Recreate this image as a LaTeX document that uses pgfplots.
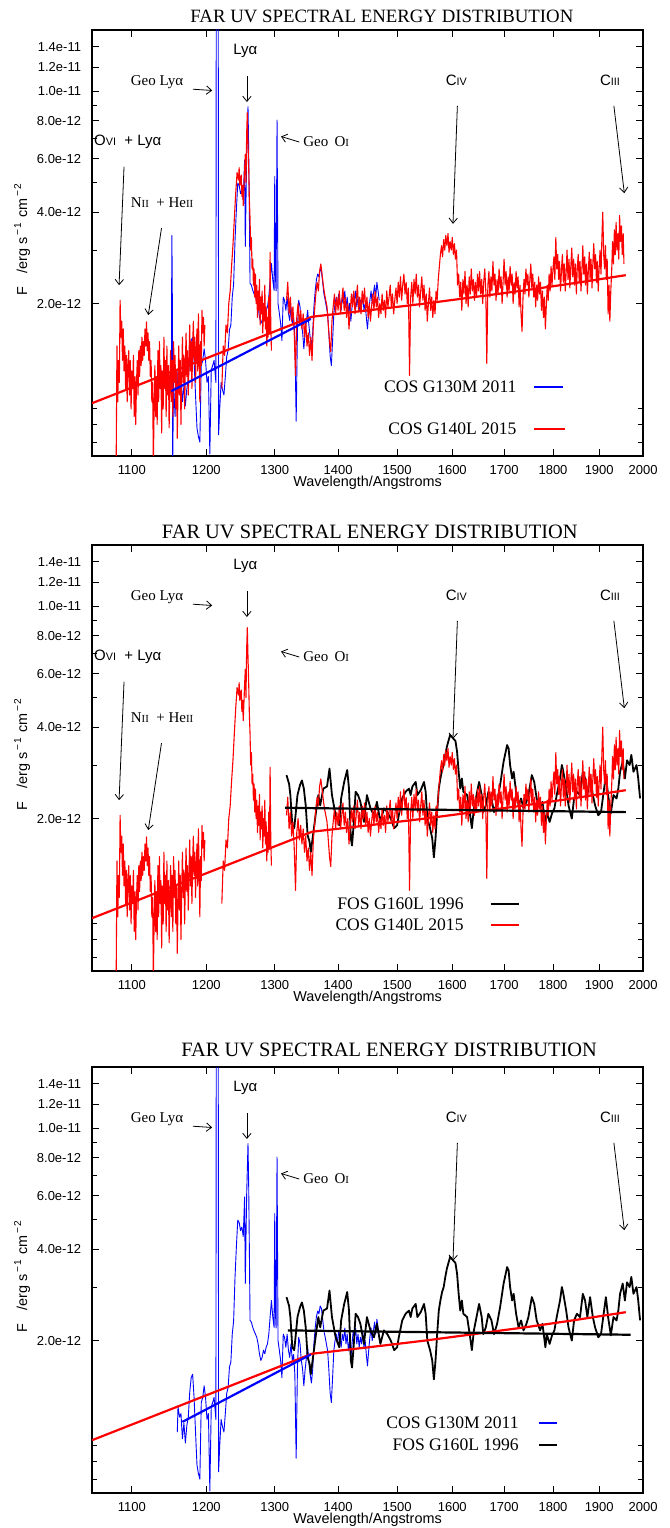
\documentclass[border=0pt]{standalone}
\usepackage{fontspec}
\setmainfont{Liberation Serif}
\setsansfont{Liberation Sans}
\usepackage{pgfplots}
\usepackage{pgfplotstable}
\pgfplotsset{compat=1.18}
\usetikzlibrary{arrows.meta}

% COS G140L 2015 (flux in 1e-12 erg/s/cm2/A)
\pgfplotstableread[row sep=\\]{
lam F\\
1080 0.6\\ 1081 1.45\\ 1082 0.95\\ 1083 1.3\\ 1084 1.1\\ 1085 2.05\\ 1086 1.55\\ 1087 1.75\\ 1088 1.3\\ 1089 1.65\\
1090 1.2\\ 1091 1.45\\ 1092 1.05\\ 1093 1.35\\ 1094 0.95\\ 1095 1.25\\ 1096 1.4\\ 1097 1.0\\ 1098 1.3\\ 1099 0.9\\
1100 1.2\\ 1101 1.05\\ 1102 1.35\\ 1103 0.85\\ 1104 1.15\\ 1105 0.8\\ 1106 1.1\\ 1107 1.3\\ 1108 1.0\\ 1109 1.4\\
1110 1.15\\ 1111 1.45\\ 1112 1.25\\ 1113 1.55\\ 1114 1.3\\ 1115 1.5\\ 1116 1.35\\ 1117 1.65\\ 1118 1.45\\ 1119 1.74\\
1120 1.4\\ 1121 1.6\\ 1122 1.3\\ 1123 1.5\\ 1124 1.15\\ 1125 1.3\\ 1126 0.95\\ 1127 1.1\\ 1128 0.6\\ 1129 0.9\\
1130 1.25\\ 1131 0.85\\ 1132 1.15\\ 1133 0.8\\ 1134 1.4\\ 1135 0.95\\ 1136 1.5\\ 1137 1.05\\ 1138 1.25\\ 1139 0.75\\
1140 1.2\\ 1141 0.9\\ 1142 1.55\\ 1143 1.05\\ 1144 1.3\\ 1145 0.85\\ 1146 1.45\\ 1147 1.0\\ 1148 1.25\\ 1149 0.78\\
1150 1.1\\ 1151 1.4\\ 1152 0.95\\ 1153 1.3\\ 1154 0.85\\ 1155 1.5\\ 1156 1.1\\ 1157 1.35\\ 1158 0.9\\ 1159 1.2\\
1160 0.72\\ 1161 1.05\\ 1162 1.45\\ 1163 1.0\\ 1164 1.3\\ 1165 0.8\\ 1166 1.15\\ 1167 1.55\\ 1168 1.1\\ 1169 1.35\\
1170 0.9\\ 1171 1.25\\ 1172 1.6\\ 1173 1.15\\ 1174 1.4\\ 1175 1.0\\ 1176 1.3\\ 1177 1.7\\ 1178 1.2\\ 1179 1.5\\
1180 1.05\\ 1181 1.45\\ 1182 1.75\\ 1183 1.3\\ 1184 1.55\\ 1185 1.1\\ 1186 1.4\\ 1187 1.65\\ 1188 1.2\\ 1189 1.85\\
1190 1.35\\ 1191 0.95\\ 1192 1.5\\ 1193 1.25\\ 1194 1.9\\ 1195 1.6\\ 1196 1.8\\ 1197 1.45\\ 1198 1.7\\
1199 nan\\
1222 1.05\\ 1224 1.45\\ 1226 1.35\\ 1228 1.7\\ 1230 1.6\\ 1232 2.0\\ 1234 2.2\\ 1236 2.65\\ 1238 3.1\\ 1240 3.8\\
1242 4.6\\ 1244 5.4\\ 1246 5.1\\ 1247 5.6\\ 1248 4.9\\ 1250 5.3\\ 1251 4.5\\ 1252 4.9\\ 1253 4.2\\ 1254 4.8\\
1255 5.5\\ 1256 6.2\\ 1257 5.0\\ 1258 7.2\\ 1259 8.5\\ 1260 6.8\\ 1261 5.6\\ 1262 4.4\\ 1263 3.8\\ 1264 3.0\\
1265 3.3\\ 1266 2.6\\ 1267 2.8\\ 1268 2.3\\ 1269 2.6\\ 1270 2.1\\ 1271 2.5\\ 1272 2.0\\ 1273 2.3\\ 1274 1.8\\
1275 2.2\\ 1276 1.9\\ 1277 2.4\\ 1278 1.7\\ 1279 2.1\\ 1280 1.85\\ 1281 2.2\\ 1282 1.6\\ 1283 2.0\\ 1284 1.75\\
1285 2.3\\ 1286 1.65\\ 1287 1.95\\ 1288 1.45\\ 1289 1.8\\ 1290 1.55\\ 1291 2.1\\ 1292 1.6\\ 1293 2.95\\ 1294 1.7\\
1295 1.4\\
1296 nan\\
1318 2.05\\ 1320 2.35\\ 1322 1.85\\ 1324 2.1\\ 1326 1.75\\ 1328 1.95\\ 1330 1.6\\ 1332 1.16\\ 1334 1.8\\ 1336 2.0\\
1338 1.7\\ 1340 1.9\\ 1342 1.65\\ 1344 1.85\\ 1346 1.55\\ 1348 1.75\\ 1350 1.45\\ 1352 1.6\\ 1354 1.35\\ 1356 1.55\\
1358 1.3\\ 1360 1.7\\ 1362 1.9\\ 1364 2.15\\ 1366 2.35\\ 1368 2.2\\ 1370 2.55\\ 1372 2.7\\ 1374 2.5\\ 1376 2.3\\
1378 2.15\\ 1380 2.05\\ 1382 1.95\\ 1384 1.7\\ 1386 1.5\\ 1388 1.39\\ 1390 1.75\\ 1392 1.95\\ 1394 2.15\\ 1396 1.85\\
1398 2.1\\ 1400 1.9\\ 1402 2.2\\ 1404 1.85\\ 1406 2.05\\ 1408 2.25\\ 1410 1.9\\ 1412 2.1\\ 1414 1.8\\ 1416 2.0\\
1418 1.65\\ 1420 1.9\\ 1422 2.15\\ 1424 1.95\\ 1426 2.2\\ 1428 1.85\\ 1430 2.05\\ 1432 2.3\\ 1434 1.9\\ 1436 2.1\\
1438 1.85\\ 1440 2.2\\ 1442 2.0\\ 1444 2.25\\ 1446 1.9\\ 1448 2.1\\ 1450 1.8\\ 1452 2.0\\ 1454 1.75\\ 1456 1.95\\
1458 2.15\\ 1460 1.9\\ 1462 2.2\\ 1464 1.95\\ 1466 2.1\\ 1468 1.8\\ 1470 2.0\\ 1472 1.85\\ 1474 2.15\\ 1476 1.9\\
1478 2.05\\ 1480 1.8\\ 1482 2.2\\ 1484 1.95\\ 1486 2.1\\ 1488 2.3\\ 1490 1.95\\ 1492 2.15\\ 1494 1.85\\ 1496 2.05\\
1498 2.25\\ 1500 2.0\\ 1502 2.35\\ 1504 2.1\\ 1506 2.45\\ 1508 2.05\\ 1510 2.3\\ 1512 2.5\\ 1514 2.15\\ 1516 2.35\\
1518 2.0\\ 1520 2.25\\ 1522 1.16\\ 1524 2.1\\ 1526 2.35\\ 1528 2.0\\ 1530 2.4\\ 1532 2.15\\ 1534 2.5\\ 1536 2.1\\
1538 2.3\\ 1540 1.95\\ 1542 2.2\\ 1544 2.45\\ 1546 2.05\\ 1548 2.3\\ 1550 1.9\\ 1552 2.15\\ 1554 1.75\\ 1556 2.0\\
1558 2.25\\ 1560 1.9\\ 1562 2.1\\ 1564 1.8\\ 1566 2.05\\ 1568 1.85\\ 1570 2.2\\ 1572 2.05\\ 1574 2.4\\ 1576 2.65\\
1578 2.9\\ 1580 3.1\\ 1582 2.85\\ 1584 3.25\\ 1586 3.0\\ 1588 3.35\\ 1590 3.1\\ 1592 3.4\\ 1594 2.95\\ 1596 3.2\\
1598 3.0\\ 1600 3.3\\ 1602 2.9\\ 1604 3.15\\ 1606 2.8\\ 1608 3.0\\ 1610 2.3\\ 1612 2.5\\ 1614 2.1\\ 1616 2.35\\
1618 1.9\\ 1620 2.4\\ 1622 2.15\\ 1624 2.55\\ 1626 2.0\\ 1628 2.3\\ 1630 1.95\\ 1632 2.45\\ 1634 2.15\\ 1636 2.6\\
1638 2.2\\ 1640 2.4\\ 1642 2.05\\ 1644 2.35\\ 1646 2.1\\ 1648 2.5\\ 1650 2.2\\ 1652 2.55\\ 1654 2.15\\ 1656 2.4\\
1658 2.0\\ 1660 2.35\\ 1662 2.6\\ 1664 2.2\\ 1666 1.27\\ 1668 2.3\\ 1670 2.55\\ 1672 2.1\\ 1674 2.45\\ 1676 2.2\\
1678 2.75\\ 1680 2.3\\ 1682 2.5\\ 1684 2.05\\ 1686 2.4\\ 1688 2.15\\ 1690 2.6\\ 1692 2.25\\ 1694 2.45\\ 1696 2.0\\
1698 2.35\\ 1700 2.8\\ 1702 2.3\\ 1704 2.55\\ 1706 2.1\\ 1708 2.45\\ 1710 2.2\\ 1712 2.65\\ 1714 2.3\\ 1716 2.5\\
1718 2.0\\ 1720 2.35\\ 1722 2.15\\ 1724 2.55\\ 1726 2.25\\ 1728 2.45\\ 1730 1.95\\ 1732 2.3\\ 1734 1.85\\ 1736 1.62\\
1738 2.1\\ 1740 2.4\\ 1742 2.15\\ 1744 2.6\\ 1746 2.3\\ 1748 2.5\\ 1750 2.1\\ 1752 2.4\\ 1754 2.7\\ 1756 2.25\\
1758 2.5\\ 1760 2.1\\ 1762 2.35\\ 1764 1.95\\ 1766 2.3\\ 1768 2.05\\ 1770 2.45\\ 1772 2.15\\ 1774 2.35\\ 1776 1.9\\
1778 2.2\\ 1780 1.8\\ 1782 2.1\\ 1784 1.65\\ 1786 1.95\\ 1788 2.3\\ 1790 2.05\\ 1792 2.5\\ 1794 2.2\\ 1796 2.65\\
1798 2.3\\ 1800 2.6\\ 1802 2.85\\ 1804 2.4\\ 1806 3.3\\ 1808 2.6\\ 1810 2.9\\ 1812 2.4\\ 1814 2.75\\ 1816 2.2\\
1818 2.6\\ 1820 2.9\\ 1822 2.35\\ 1824 2.7\\ 1826 2.2\\ 1828 2.55\\ 1830 3.0\\ 1832 2.4\\ 1834 2.8\\ 1836 2.25\\
1838 2.65\\ 1840 3.05\\ 1842 2.45\\ 1844 2.8\\ 1846 2.3\\ 1848 2.7\\ 1850 2.15\\ 1852 2.6\\ 1854 2.9\\ 1856 2.35\\
1858 2.75\\ 1860 2.2\\ 1862 2.6\\ 1864 3.1\\ 1866 2.5\\ 1868 2.85\\ 1870 2.3\\ 1872 2.7\\ 1874 2.15\\ 1876 2.55\\
1878 2.95\\ 1880 2.4\\ 1882 2.8\\ 1884 2.25\\ 1886 2.7\\ 1888 3.15\\ 1890 2.6\\ 1892 2.9\\ 1894 2.35\\ 1896 2.75\\
1898 2.2\\ 1900 2.65\\ 1902 3.0\\ 1904 2.5\\ 1906 3.3\\ 1908 4.0\\ 1910 2.9\\ 1912 2.6\\ 1914 3.1\\ 1916 2.4\\
1918 2.8\\ 1920 1.85\\ 1922 2.3\\ 1924 1.75\\ 1926 2.2\\ 1928 2.6\\ 1930 3.2\\ 1932 2.7\\ 1934 3.5\\ 1936 2.9\\
1938 3.7\\ 1940 3.0\\ 1942 3.4\\ 1944 2.8\\ 1946 3.9\\ 1948 3.2\\ 1950 3.6\\ 1952 2.9\\ 1954 3.4\\ 1956 2.7\\
}\redtab

% COS G130M 2011
\pgfplotstableread[row sep=\\]{
lam F\\
1160 1.00\\ 1161 1.21\\ 1163 1.12\\ 1165 1.15\\ 1167 0.95\\ 1169 1.07\\ 1171 0.92\\ 1173 1.05\\ 1175 1.12\\ 1177 1.35\\
1179 1.51\\ 1181 1.55\\ 1183 1.30\\ 1185 1.00\\ 1187 0.78\\ 1189 0.73\\ 1191 0.70\\ 1193 1.25\\ 1195 1.30\\ 1197 1.42\\
1199 1.30\\ 1201 1.10\\ 1203 1.15\\ 1205 0.64\\ 1207 1.21\\ 1209 1.25\\ 1211 1.30\\ 1213.6 1.10\\ 1214.2 40\\ 1216.8 40\\
1217.4 0.74\\ 1219 0.90\\ 1221 1.10\\ 1223 1.04\\ 1225 1.00\\ 1227 1.15\\ 1229 1.34\\ 1231 1.40\\ 1233 1.64\\ 1235 1.70\\
1237 2.10\\ 1239 2.32\\ 1241 3.23\\ 1243 4.06\\ 1245 4.98\\ 1247 4.90\\ 1249 4.60\\ 1251 4.73\\ 1253 4.40\\ 1255 5.94\\
1256 3.08\\ 1258 6.0\\ 1260 8.90\\ 1261 6.5\\ 1262 4.0\\ 1263 2.33\\ 1265 2.30\\ 1267 2.21\\ 1269 2.15\\ 1271 2.10\\
1273 2.05\\ 1275 1.95\\ 1277 1.81\\ 1279 1.72\\ 1281 1.76\\ 1283 1.86\\ 1285 1.81\\ 1287 1.90\\ 1289 1.95\\ 1291 2.10\\
1293 2.39\\ 1295 2.71\\ 1297 2.40\\ 1299 2.21\\ 1300 5.24\\ 1301 2.5\\ 1302 2.2\\ 1303.5 8.03\\ 1305 2.0\\ 1307 1.86\\
1309 1.72\\ 1311 1.51\\ 1313 2.10\\ 1315 2.05\\ 1317 1.90\\ 1319 2.10\\ 1321 1.86\\ 1323 1.76\\ 1325 1.95\\ 1327 1.72\\
1329 1.80\\ 1331 1.55\\ 1333 0.82\\ 1335 1.65\\ 1337 2.05\\ 1339 1.95\\ 1341 1.72\\ 1343 1.62\\ 1345 1.42\\ 1347 1.60\\
1349 1.75\\ 1351 1.90\\ 1353 1.70\\ 1355 1.55\\ 1357 1.45\\ 1359 1.60\\ 1361 1.95\\ 1363 2.20\\ 1365 2.40\\ 1367 2.50\\
1369 2.45\\ 1371 2.60\\ 1373 2.55\\ 1375 2.35\\ 1377 2.15\\ 1379 2.05\\ 1381 1.95\\ 1383 1.85\\ 1385 1.60\\ 1387 1.35\\
1389 1.25\\ 1391 1.50\\ 1393 1.85\\ 1395 2.00\\ 1397 2.10\\ 1399 1.95\\ 1401 2.15\\ 1403 2.05\\ 1405 1.90\\ 1407 2.10\\
1409 2.00\\ 1411 2.20\\ 1413 1.95\\ 1415 2.10\\ 1417 1.85\\ 1419 2.00\\ 1421 1.75\\ 1423 1.95\\ 1425 2.15\\ 1427 2.05\\
1429 2.20\\ 1431 1.95\\ 1433 2.10\\ 1435 1.90\\ 1437 2.05\\ 1439 1.95\\ 1441 2.15\\ 1443 1.90\\ 1445 2.00\\ 1447 1.80\\
1449 1.65\\ 1451 1.85\\ 1453 2.05\\ 1455 2.20\\ 1457 2.00\\ 1459 2.15\\ 1461 2.30\\ 1463 2.10\\ 1465 2.35\\ 1467 2.20\\
1469 2.05\\
}\bluetab

% FOS G160L 1996
\pgfplotstableread[row sep=\\]{
lam F\\
1318 2.78\\ 1322 2.60\\ 1324 2.39\\ 1327 1.90\\ 1330 1.86\\ 1332 2.05\\ 1335 2.39\\ 1339 2.58\\ 1342 2.67\\ 1345 2.51\\
1348 2.21\\ 1351 1.76\\ 1354 1.68\\ 1356 1.55\\ 1361 1.86\\ 1365 2.16\\ 1368 2.39\\ 1371 2.21\\ 1376 2.51\\ 1382 2.55\\
1386 2.92\\ 1390 2.39\\ 1396 2.05\\ 1402 1.90\\ 1405 2.33\\ 1410 2.64\\ 1415 2.89\\ 1418 2.51\\ 1421 1.72\\ 1423 1.63\\
1426 1.95\\ 1429 2.45\\ 1433 2.39\\ 1437 2.27\\ 1443 1.95\\ 1448 2.39\\ 1454 2.16\\ 1460 2.05\\ 1465 2.27\\ 1471 1.95\\
1477 2.16\\ 1483 2.10\\ 1489 2.00\\ 1495 1.86\\ 1500 1.90\\ 1503 2.05\\ 1509 2.33\\ 1515 2.45\\ 1521 2.51\\ 1524 2.39\\
1527 2.55\\ 1533 2.64\\ 1536 2.39\\ 1542 2.48\\ 1548 2.64\\ 1551 2.45\\ 1554 2.00\\ 1559 1.86\\ 1563 1.72\\ 1566 1.49\\
1569 1.72\\ 1572 2.10\\ 1575 2.51\\ 1578 2.71\\ 1581 2.89\\ 1584 3.00\\ 1587 3.24\\ 1590 3.45\\ 1596 3.77\\ 1600 3.70\\
1606 3.60\\ 1609 3.32\\ 1612 2.85\\ 1615 2.51\\ 1618 2.71\\ 1621 2.45\\ 1628 2.39\\ 1633 2.10\\ 1637 1.86\\ 1641 2.16\\
1646 2.39\\ 1651 2.64\\ 1656 2.39\\ 1659 2.10\\ 1664 2.21\\ 1669 2.45\\ 1675 2.33\\ 1680 2.10\\ 1686 2.27\\ 1692 2.58\\
1699 3.08\\ 1706 3.49\\ 1709 3.40\\ 1712 3.00\\ 1716 2.71\\ 1719 2.85\\ 1724 2.45\\ 1729 2.21\\ 1734 2.33\\ 1739 2.16\\
1745 2.27\\ 1749 2.39\\ 1756 2.78\\ 1761 2.64\\ 1766 2.33\\ 1773 2.16\\ 1778 2.27\\ 1784 1.90\\ 1787 2.10\\ 1793 1.95\\
1798 2.08\\ 1803 2.16\\ 1808 2.39\\ 1815 2.71\\ 1819 3.00\\ 1822 2.85\\ 1828 2.51\\ 1833 2.21\\ 1840 2.00\\ 1845 2.33\\
1851 2.45\\ 1858 2.39\\ 1864 2.85\\ 1869 2.71\\ 1874 2.39\\ 1880 2.78\\ 1886 2.39\\ 1891 2.21\\ 1898 2.05\\ 1904 2.10\\
1909 2.39\\ 1915 2.78\\ 1920 2.39\\ 1926 2.08\\ 1932 2.39\\ 1939 2.33\\ 1943 2.51\\ 1947 2.85\\ 1953 3.08\\ 1958 2.71\\
1963 3.11\\ 1969 3.00\\ 1973 3.24\\ 1978 2.85\\ 1985 3.00\\ 1989 2.71\\ 1993 2.33\\
}\blacktab

% smooth continuum fit
\pgfplotstableread[row sep=\\]{
lam F\\
1050 0.94\\ 1358 1.81\\ 1450 1.90\\ 1550 2.00\\ 1650 2.11\\ 1750 2.22\\ 1850 2.34\\ 1960 2.48\\
}\redfit

\tikzset{arr/.style={-{Straight Barb[length=2.6pt,width=4.2pt]}, line width=0.4pt, black}}

\newcommand{\annfont}{\fontsize{7.5}{9}\selectfont}
\newcommand{\smallnum}[1]{{\fontsize{5.4}{6}\selectfont #1}}
\newcommand{\legfont}{\fontsize{8.8}{10}\selectfont}

\newcommand{\commonann}{%
  \node[font=\sffamily\annfont] at (rel axis cs:0.278,0.951) {Lyα};
  \draw[arr] (rel axis cs:0.281,0.892) -- (rel axis cs:0.281,0.831);
  \node[font=\annfont] at (rel axis cs:0.118,0.878) {Geo Lyα};
  \draw[arr] (rel axis cs:0.183,0.861) -- (rel axis cs:0.218,0.858);
  \node[font=\annfont] at (rel axis cs:0.425,0.738) {Geo\, O\smallnum{I}};
  \draw[arr] (rel axis cs:0.376,0.737) -- (rel axis cs:0.343,0.750);
  \node[font=\sffamily\annfont] at (rel axis cs:0.661,0.881) {C\smallnum{IV}};
  \draw[arr] (rel axis cs:0.663,0.822) -- (rel axis cs:0.655,0.545);
  \node[font=\sffamily\annfont] at (rel axis cs:0.940,0.881) {C\smallnum{III}};
  \draw[arr] (rel axis cs:0.947,0.822) -- (rel axis cs:0.966,0.617);
}
\newcommand{\blueann}{%
  \node[font=\sffamily\annfont, anchor=west, inner sep=0pt] at (rel axis cs:0.003,0.738) {O\smallnum{VI}\ \ + Lyα};
  \draw[arr] (rel axis cs:0.058,0.679) -- (rel axis cs:0.049,0.401);
  \node[font=\annfont] at (rel axis cs:0.127,0.595) {N\smallnum{II}\ \ + He\smallnum{II}};
  \draw[arr] (rel axis cs:0.126,0.535) -- (rel axis cs:0.102,0.331);
}

\pgfplotsset{
  every axis title shift=0pt,
  every axis/.append style={
    xmode=log, ymode=log,
    xmin=1050, xmax=2000, ymin=0.63, ymax=15.9,
    scale only axis, width=275.5pt, height=213pt,
    anchor=south west,
    clip mode=individual,
    unbounded coords=jump,
    xtick={1100,1200,1300,1400,1500,1600,1700,1800,1900,2000},
    xticklabels={1100,1200,1300,1400,1500,1600,1700,1800,1900,2000},
    xminorticks=false,
    ytick={2,4,6,8,10,12,14},
    yticklabels={2.0e-12,4.0e-12,6.0e-12,8.0e-12,1.0e-11,1.2e-11,1.4e-11},
    minor ytick={0.7,0.8,0.9,3,5,7,9},
    tick align=inside,
    major tick length=3.6pt, minor tick length=2.4pt,
    tick style={black, line width=0.5pt},
    axis line style={line width=0.6pt},
    tick label style={font=\sffamily\fontsize{6.5}{7.5}\selectfont},
    yticklabel style={xshift=-2pt},
    xticklabel style={yshift=-1pt},
    xlabel={Wavelength/Angstroms},
    xlabel style={at={(axis description cs:0.5,-0.0634)}, anchor=center, font=\sffamily\fontsize{7.2}{8}\selectfont},
    ylabel={F\hspace{0.9em}/erg s\textsuperscript{\,−\,1} cm\textsuperscript{\,−\,2}},
    ylabel style={at={(axis description cs:-0.127,0.51)}, anchor=center, font=\sffamily\fontsize{7.2}{8}\selectfont},
    title={FAR UV SPECTRAL ENERGY DISTRIBUTION},
  },
}

\begin{document}
\begin{tikzpicture}
\useasboundingbox (0,0) rectangle (335pt,764pt);

% ---------------- Panel 1 ----------------
\begin{axis}[at={(46pt,536pt)},
  title style={at={(axis description cs:0.526,1.0315)}, anchor=center, font=\fontsize{9.4}{11}\selectfont}]
\addplot[blue, line width=0.45pt, line join=round] coordinates {(1152,1.0) (1152.6,3.35) (1153.2,2.5) (1153.8,0.6) (1155,1.1) (1157,0.85) (1159,1.2) (1160,1.0)};
\addplot[blue, line width=0.45pt, line join=round] table[x=lam, y=F] {\bluetab};
\addplot[red, line width=0.55pt, line join=round] table[x=lam, y=F] {\redtab};
\addplot[red, line width=1.1pt, line join=round] table[x=lam, y=F] {\redfit};
\addplot[blue, line width=1.1pt] coordinates {(1152,1.03) (1356,1.78)};
\commonann
\blueann
\node[anchor=east, inner sep=0pt, font=\legfont] at (rel axis cs:0.771,0.162) {COS G130M 2011};
\draw[blue, line width=1.1pt] (rel axis cs:0.802,0.162) -- (rel axis cs:0.855,0.162);
\node[anchor=east, inner sep=0pt, font=\legfont] at (rel axis cs:0.771,0.063) {COS G140L 2015};
\draw[red, line width=1.1pt] (rel axis cs:0.802,0.063) -- (rel axis cs:0.858,0.063);
\end{axis}

% ---------------- Panel 2 ----------------
\begin{axis}[at={(46pt,278.5pt)},
  title style={at={(axis description cs:0.504,1.0315)}, anchor=center, font=\fontsize{10.2}{12}\selectfont}]
\addplot[black, line width=0.9pt, line join=round] table[x=lam, y=F] {\blacktab};
\addplot[red, line width=0.55pt, line join=round] table[x=lam, y=F] {\redtab};
\addplot[red, line width=1.1pt, line join=round] table[x=lam, y=F] {\redfit};
\addplot[black, line width=1.1pt] coordinates {(1316,2.17) (1960,2.10)};
\commonann
\blueann
\node[anchor=east, inner sep=0pt, font=\legfont] at (rel axis cs:0.675,0.157) {FOS G160L 1996};
\draw[black, line width=1.1pt] (rel axis cs:0.724,0.157) -- (rel axis cs:0.775,0.157);
\node[anchor=east, inner sep=0pt, font=\legfont] at (rel axis cs:0.675,0.108) {COS G140L 2015};
\draw[red, line width=1.1pt] (rel axis cs:0.724,0.108) -- (rel axis cs:0.775,0.108);
\end{axis}

% ---------------- Panel 3 ----------------
\begin{axis}[at={(46pt,17.5pt)},
  title style={at={(axis description cs:0.539,1.041)}, anchor=center, font=\fontsize{10.2}{12}\selectfont}]
\addplot[blue, line width=0.45pt, line join=round] table[x=lam, y=F] {\bluetab};
\addplot[black, line width=0.9pt, line join=round] table[x=lam, y=F] {\blacktab};
\addplot[red, line width=1.1pt, line join=round] table[x=lam, y=F] {\redfit};
\addplot[blue, line width=1.1pt] coordinates {(1167,1.08) (1356,1.80)};
\addplot[black, line width=1.1pt] coordinates {(1320,2.16) (1971,2.09)};
\commonann
\node[anchor=east, inner sep=0pt, font=\legfont] at (rel axis cs:0.775,0.164) {COS G130M 2011};
\draw[blue, line width=1.1pt] (rel axis cs:0.811,0.164) -- (rel axis cs:0.844,0.164);
\node[anchor=east, inner sep=0pt, font=\legfont] at (rel axis cs:0.775,0.113) {FOS G160L 1996};
\draw[black, line width=1.1pt] (rel axis cs:0.811,0.113) -- (rel axis cs:0.844,0.113);
\end{axis}
\end{tikzpicture}
\end{document}
